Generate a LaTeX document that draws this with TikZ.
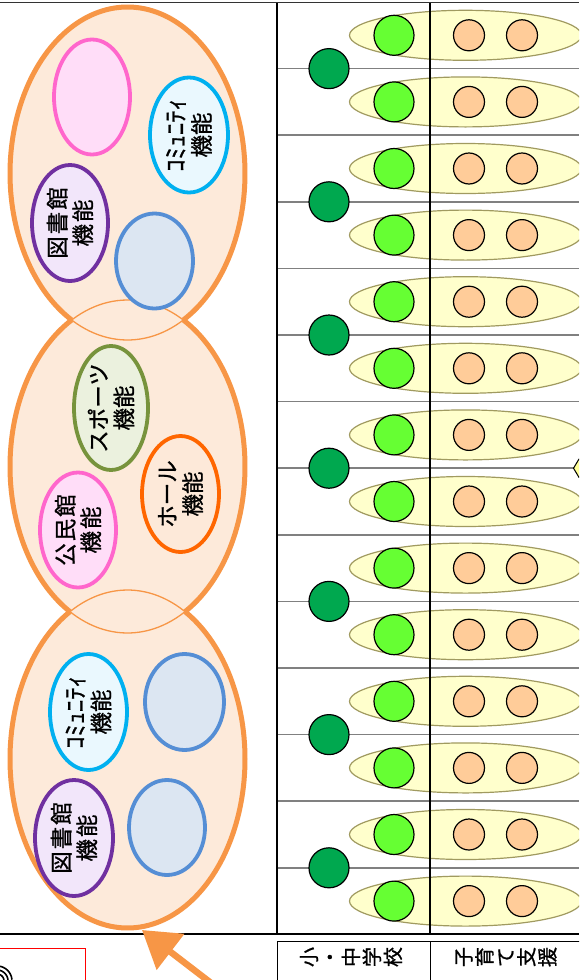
\documentclass[tikz,border=0pt]{standalone}
\usepackage{fontspec}
\newfontfamily\jp{Noto Sans CJK JP}[FakeBold=1]
\usetikzlibrary{shapes.geometric,arrows.meta}
\definecolor{bigor}{HTML}{F79646}
\definecolor{bigfill}{HTML}{FDEADA}
\definecolor{pinkS}{HTML}{FF66CC}
\definecolor{pinkF}{HTML}{FFDDF8}
\definecolor{cyanS}{HTML}{00B0F0}
\definecolor{cyanF}{HTML}{EAF8FE}
\definecolor{purpS}{HTML}{7030A0}
\definecolor{purpF}{HTML}{F2E6FA}
\definecolor{blueS}{HTML}{558ED5}
\definecolor{blueF}{HTML}{DCE6F2}
\definecolor{greenS}{HTML}{77933C}
\definecolor{greenF}{HTML}{EBF1DE}
\definecolor{hallS}{HTML}{FF6600}
\definecolor{hallF}{HTML}{FDE9D9}
\definecolor{dkgreen}{HTML}{00A84F}
\definecolor{ltgreen}{HTML}{66FF33}
\definecolor{peach}{HTML}{FFCC99}
\definecolor{yelF}{HTML}{FFFFCC}
\definecolor{yelS}{HTML}{A09A60}
\definecolor{rowline}{HTML}{808080}
\definecolor{hexF}{HTML}{FFFF99}
\begin{document}
\begin{tikzpicture}[x=1pt,y=-1pt,
  bigell/.style={ellipse, fill=bigfill, inner sep=0pt, minimum width=235pt},
  thinor/.style={draw=bigor, line width=1.3pt},
  thickor/.style={draw=bigor, line width=5pt},
  func/.style={ellipse, draw, line width=3.8pt, inner sep=0pt},
  lbl/.style={rotate=90, align=center, inner sep=0pt, font=\jp\fontsize{22.5}{25.5}\selectfont},
  kata/.style={font=\jp\fontsize{24.5}{25.5}\selectfont},
  hdr/.style={rotate=90, align=center, inner sep=0pt, font=\jp\fontsize{20}{21}\selectfont},
  yel/.style={ellipse, draw=yelS, fill=yelF, line width=1.2pt, inner sep=0pt, minimum width=232pt, minimum height=50pt},
  lg/.style={circle, draw=black, fill=ltgreen, line width=1.2pt, inner sep=0pt, minimum size=40pt},
  pc/.style={circle, draw=black, fill=peach, line width=1.2pt, inner sep=0pt, minimum size=31pt},
  dg/.style={circle, draw=black, fill=dkgreen, line width=1.2pt, inner sep=0pt, minimum size=40pt},
  rowsep/.style={draw=rowline, line width=1.5pt},
  blackline/.style={draw=black, line width=2pt},
  cell/.style={rectangle, draw=black, line width=1pt, inner sep=0pt, anchor=north west, minimum width=153pt, minimum height=60pt}
]
\useasboundingbox (0,0) rectangle (579,980);
\clip (0,0) rectangle (579,980);
\fill[white] (0,0) rectangle (579,980);

% ---------- big orange ellipses ----------
\node[bigell, minimum height=333pt] (big1) at (127.5,173.5) {};
\node[bigell, minimum height=333pt] (big2) at (127.5,466.5) {};
\node[bigell, minimum height=338pt] (big3) at (127.5,759) {};
\draw[thinor] plot[domain=0:360, samples=160, variable=\t] ({127.5+117.5*cos(\t)}, {173.5+166.5*sin(\t)});
\draw[thinor] plot[domain=0:360, samples=160, variable=\t] ({127.5+117.5*cos(\t)}, {466.5+166.5*sin(\t)});
\draw[thinor] plot[domain=0:360, samples=160, variable=\t] ({127.5+117.5*cos(\t)}, {759+169*sin(\t)});
\draw[thickor] plot[domain=118.38:421.62, samples=160, variable=\t] ({127.5+117.5*cos(\t)}, {173.5+166.5*sin(\t)});
\draw[thickor] plot[domain=-61.62:60.7, samples=80, variable=\t] ({127.5+117.5*cos(\t)}, {466.5+166.5*sin(\t)});
\draw[thickor] plot[domain=119.3:241.62, samples=80, variable=\t] ({127.5+117.5*cos(\t)}, {466.5+166.5*sin(\t)});
\draw[thickor] plot[domain=-60.65:240.65, samples=160, variable=\t] ({127.5+117.5*cos(\t)}, {759+169*sin(\t)});

% ---------- inner function ellipses: top ----------
\node[func, draw=pinkS, fill=pinkF, minimum width=76pt, minimum height=115pt] (pk1) at (92,97) {};
\node[func, draw=cyanS, fill=cyanF, minimum width=78pt, minimum height=115pt] (cm1) at (189,135) {};
\node[lbl] (cm1t) at (cm1.center) {{\fontsize{24.5}{25.5}\selectfont ｺﾐｭﾆﾃｨ}\\機能};
\node[func, draw=purpS, fill=purpF, minimum width=76pt, minimum height=116pt] (lb1) at (70,223) {};
\node[lbl] (lb1t) at (lb1.center) {図\kern2pt 書\kern2pt 館\\機\kern2pt 能};
\node[func, draw=blueS, fill=blueF, minimum width=77pt, minimum height=95pt] (bl1) at (154.5,261) {};

% ---------- middle ----------
\node[func, draw=greenS, fill=greenF, minimum width=74pt, minimum height=124pt] (sp) at (111,408) {};
\node[lbl] (spt) at (sp.center) {スポーツ\\機能};
\node[func, draw=hallS, fill=hallF, minimum width=77pt, minimum height=116pt] (hl) at (180.5,494) {};
\node[lbl] (hlt) at (hl.center) {ホール\\機能};
\node[func, draw=pinkS, fill=pinkF, minimum width=76pt, minimum height=115pt] (km) at (78,530) {};
\node[lbl] (kmt) at (km.center) {公\kern2pt 民\kern2pt 館\\機\kern2pt 能};

% ---------- bottom ----------
\node[func, draw=cyanS, fill=cyanF, minimum width=77pt, minimum height=116pt] (cm2) at (88.5,712) {};
\node[lbl] (cm2t) at (cm2.center) {{\fontsize{24.5}{25.5}\selectfont ｺﾐｭﾆﾃｨ}\\機能};
\node[func, draw=blueS, fill=blueF, minimum width=79pt, minimum height=96pt] (bl2) at (184.5,702) {};
\node[func, draw=purpS, fill=purpF, minimum width=78pt, minimum height=116pt] (lb2) at (74,838) {};
\node[lbl] (lb2t) at (lb2.center) {図\kern2pt 書\kern2pt 館\\機\kern2pt 能};
\node[func, draw=blueS, fill=blueF, minimum width=76pt, minimum height=95pt] (bl3) at (167,827.5) {};

% ---------- right grid ----------
\foreach \i in {1,...,13} {
  \pgfmathsetmacro\yy{2+66.6*\i}
  \coordinate (la\i) at (277,\yy);
  \coordinate (lb\i) at (579,\yy);
  \draw[rowsep] (la\i) -- (lb\i);
}
\draw[fill=hexF, draw=black, line width=1pt] (573.5,468.2) -- (579,459) -- (590,459) -- (590,477.4) -- (579,477.4) -- cycle;
\foreach \i in {0,...,13} {
  \pgfmathsetmacro\cc{35.3+66.6*\i}
  \node[yel] (ye\i) at (465.5,\cc) {};
  \node[lg] (gr\i) at (394,\cc) {};
  \node[pc] (pa\i) at (469,\cc) {};
  \node[pc] (pb\i) at (522,\cc) {};
}
\foreach \k in {0,...,6} {
  \pgfmathsetmacro\yy{68.6+133.2*\k}
  \node[dg] (dg\k) at (329,\yy) {};
}
\coordinate (vtop1) at (277,2);
\coordinate (vbot1) at (277,934);
\coordinate (vtop2) at (430,2);
\coordinate (vbot2) at (430,934);
\draw[blackline] (vtop1) -- (vbot1);
\draw[blackline] (vtop2) -- (vbot2);
\coordinate (tl) at (0,2.5);
\coordinate (tr) at (579,2.5);
\draw[draw=black!80, line width=1.6pt] (tl) -- (tr);
\coordinate (bl) at (0,934);
\coordinate (br) at (579,934);
\draw[draw=black, line width=1.6pt] (bl) -- (br);

% ---------- header cells ----------
\node[cell] (c1) at (277,941) {};
\node[cell] (c2) at (430,941) {};
\node[hdr] (c1t) at (351,957) {小\\・\\中\\学\\校};
\node[hdr] (c2t) at (506,957) {子\\育\\て\\支\\援};

% ---------- legend box (cut) ----------
\node[rectangle, draw=red, line width=1pt, anchor=north east, minimum width=100pt, minimum height=60pt, inner sep=0pt] (lgd) at (86,948) {};
\foreach \r in {7,11,15} {
  \draw[line width=1.6pt] plot[domain=-85:-5, samples=20, variable=\t] ({-3+\r*cos(\t)}, {981+\r*sin(\t)});
}

% ---------- arrow ----------
\coordinate (arS) at (228,996);
\coordinate (arT) at (142,930);
\draw[draw=bigor, line width=6.5pt, -{Triangle[length=36pt,width=44pt]}] (arS) -- (arT);
\end{tikzpicture}
\end{document}
